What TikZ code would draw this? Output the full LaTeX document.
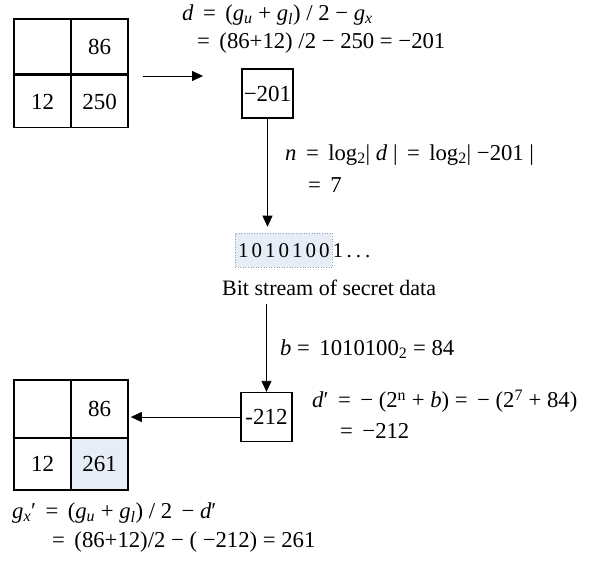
\documentclass[tikz,border=0pt]{standalone}
\usepackage{fontspec}
\setmainfont{Liberation Serif}
\usetikzlibrary{arrows.meta}
\definecolor{cellblue}{HTML}{E7EDF6}
\definecolor{dotgray}{HTML}{9AA0AA}
\begin{document}
\begin{tikzpicture}[x=1pt,y=-1pt,
  txt/.style={font=\fontsize{22.7}{26}\selectfont, inner sep=0pt, anchor=west},
  cell/.style={draw, line width=1.5pt, minimum width=57pt, minimum height=55pt, inner sep=0pt, font=\fontsize{23}{27}\selectfont},
  cellb/.style={cell, minimum height=52pt},
  valbox/.style={draw, line width=1.3pt, minimum width=51pt, minimum height=49pt, inner sep=0pt, font=\fontsize{23}{27}\selectfont},
  arr/.style={line width=0.8pt, -{Triangle[length=11pt,width=10pt]}}
]
\useasboundingbox (0,0) rectangle (592,560);
% top grid
\node[cell] (tl) at (42.5,46.5) {};
\node[cell] (tr) at (99.5,46.5) {86};
\node[cellb] (bl) at (42.5,101.5) {12};
\node[cellb] (br) at (99.5,101.5) {250};
% top formula
\node[txt] (f1) at (182,15) {\textit{d}\, =\, (\textit{g}\textsubscript{\textit{u}} + \textit{g}\textsubscript{\textit{l}}) / 2 − \textit{g}\textsubscript{\textit{x}}};
\node[txt] (f2) at (197,43) {= \,(86+12) /2 − 250 = −201};
% arrow to box
\coordinate (a1s) at (143,76);
\coordinate (a1e) at (203,76);
\draw[arr] (a1s) -- (a1e);
\node[valbox] (b201) at (267.5,93.5) {−201};
% n formula
\node[txt] (n1) at (285,155) {\textit{n}\, =\, log\textsubscript{2}| \textit{d} |\, =\, log\textsubscript{2}| −201 |};
\node[txt] (n2) at (308,185) {=\, 7};
% bit stream
\node[draw=dotgray, dotted, fill=cellblue, line width=0.6pt, minimum width=97pt, minimum height=34pt, inner sep=0pt] (bits) at (283.5,250) {};
\node[txt, font=\fontsize{21}{25}\selectfont] (bitstxt) at (238,251) {1\hspace{3pt}0\hspace{3pt}1\hspace{3pt}0\hspace{3pt}1\hspace{3pt}0\hspace{3pt}0\hspace{3pt}1\hspace{3.5pt}.\hspace{4pt}.\hspace{4pt}.};
\draw[arr, shorten >=6pt] (b201.south) -- (b201.south |- bits.north);
\node[txt, font=\fontsize{22}{26}\selectfont] (bitlbl) at (222,288) {Bit stream of secret data};
% b formula
\node[txt] (bf) at (280,349) {\textit{b} =\, 1010100\textsubscript{2} = 84};
% box -212
\node[valbox] (b212) at (266.5,417) {-212};
\draw[arr, shorten <=8pt] (b212.north |- bitlbl.south) -- (b212.north);
% d' formula
\node[txt] (dp1) at (312,401) {\textit{d}′\, =\, − (2\textsuperscript{n} + \textit{b}) =\, − (2\textsuperscript{7} + 84)};
\node[txt] (dp2) at (340,431) {=\, −212};
% bottom grid
\node[cell, minimum height=58pt] (tl2) at (42.5,409) {};
\node[cell, minimum height=58pt] (tr2) at (99.5,409) {86};
\node[cellb] (bl2) at (42.5,464) {12};
\node[cellb, fill=cellblue] (br2) at (99.5,464) {261};
\draw[arr, shorten >=2pt] (b212.west) -- (b212.west -| tr2.east);
% bottom formula
\node[txt] (g1) at (12,513) {\textit{g}\textsubscript{\textit{x}}′\, =\, (\textit{g}\textsubscript{\textit{u}} + \textit{g}\textsubscript{\textit{l}}) / 2\, − \textit{d}′};
\node[txt] (g2) at (52,542) {=\, (86+12)/2 − ( −212) = 261};
\end{tikzpicture}
\end{document}
